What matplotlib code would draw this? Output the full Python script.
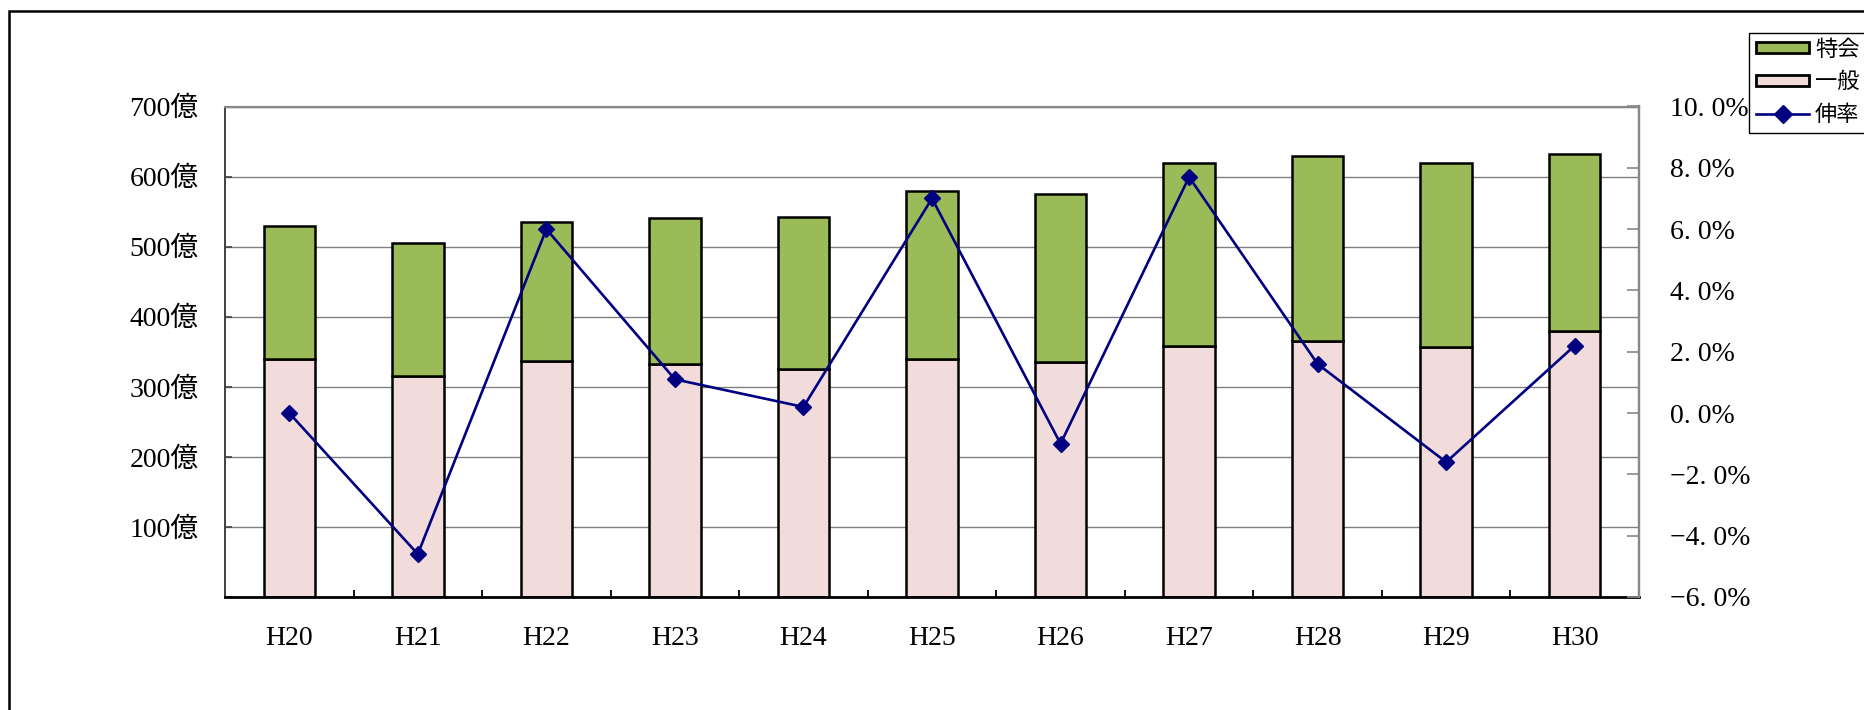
import numpy as np
import matplotlib.pyplot as plt
from matplotlib.patches import Patch, Rectangle
from matplotlib.lines import Line2D

# 年度ごとの予算額（億円）と伸率（%）
years = ['H20', 'H21', 'H22', 'H23', 'H24', 'H25', 'H26', 'H27', 'H28', 'H29', 'H30']
ippan = [340, 315, 337, 333, 325, 340, 336, 358, 365, 357, 380]
tokkai = [189, 190, 198, 208, 217, 240, 239, 261, 264, 262, 252]
nobiritsu = [0.0, -4.6, 6.0, 1.1, 0.2, 7.0, -1.0, 7.7, 1.6, -1.6, 2.2]

left_ticks = [100, 200, 300, 400, 500, 600, 700]
right_ticks = [-6, -4, -2, 0, 2, 4, 6, 8, 10]

fuente = ['Liberation Serif', 'Noto Sans CJK JP']
plt.rcParams['font.family'] = fuente

W, H = 1865, 710
fig = plt.figure(figsize=(W / 100, H / 100), dpi=100)
ax = fig.add_axes([225 / W, 113 / H, 1414 / W, 490.5 / H])

x = np.arange(len(years))
ancho = 0.4
ax.bar(x, ippan, ancho, color='#F2DCDB', edgecolor='black', linewidth=1.8, zorder=2)
ax.bar(x, tokkai, ancho, bottom=ippan, color='#9BBB59', edgecolor='black', linewidth=1.8, zorder=2)

ax.set_xlim(-0.5, len(years) - 0.5)
ax.set_ylim(0, 700)
ax.set_yticks([0] + left_ticks)
ax.set_yticklabels([''] + ['%d億' % v for v in left_ticks])
ax.yaxis.grid(True, color='#808080', linewidth=1.0)
ax.set_axisbelow(True)

# ticks de categoria: marcas en los limites, etiquetas en el centro
ax.set_xticks(x[:-1] + 0.5)
ax.set_xticklabels([])
ax.set_xticks(x, minor=True)
ax.set_xticklabels(years, minor=True)
ax.tick_params(axis='x', which='major', direction='in', length=5, width=1.3, color='black')
ax.tick_params(axis='x', which='minor', length=0, pad=21, labelsize=20)
ax.tick_params(axis='y', direction='in', length=5, width=1.2, color='#404040', pad=19, labelsize=20)

for lado in ['top', 'right']:
    ax.spines[lado].set_color('#888888')
    ax.spines[lado].set_linewidth(1.6)
ax.spines['left'].set_color('#404040')
ax.spines['left'].set_linewidth(1.4)
ax.spines['bottom'].set_color('black')
ax.spines['bottom'].set_linewidth(2.0)

# eje derecho para el伸率
ax2 = ax.twinx()
ax2.plot(x, nobiritsu, color='#000080', linewidth=1.9, marker='D', markersize=8,
         markerfacecolor='#000080', markeredgecolor='#000080', zorder=3)
ax2.set_ylim(-6, 10)
ax2.set_yticks(right_ticks)
ax2.set_yticklabels([('%.1f' % v).replace('.', '. ').replace('-', '\u2212') + '%' for v in right_ticks])
ax2.tick_params(axis='y', direction='in', length=9, width=1.2, color='#888888', pad=22, labelsize=20)
for lado in ['top', 'left', 'bottom']:
    ax2.spines[lado].set_visible(False)
ax2.spines['right'].set_color('#888888')
ax2.spines['right'].set_linewidth(1.6)

# marco exterior
fig.add_artist(Rectangle((9.5 / W, -0.1), 1.2, 1.1 - 11 / H, transform=fig.transFigure,
                         fill=False, edgecolor='black', linewidth=1.8))

handles = [Patch(facecolor='#9BBB59', edgecolor='black', linewidth=2.0),
           Patch(facecolor='#F2DCDB', edgecolor='black', linewidth=2.0),
           Line2D([], [], color='#000080', linewidth=1.9, marker='D', markersize=9)]
leg = fig.legend(handles, ['特会', '一般', '伸率'], loc='upper left',
                 bbox_to_anchor=(1749 / W, 1 - 33 / H), borderaxespad=0,
                 prop={'family': fuente, 'size': 16}, fancybox=False,
                 edgecolor='black', framealpha=1, handlelength=2.4, handleheight=0.42,
                 handletextpad=0.25, labelspacing=0.55, borderpad=0.32)
leg.get_frame().set_linewidth(1.0)

fig.savefig('out.png', dpi=100)
